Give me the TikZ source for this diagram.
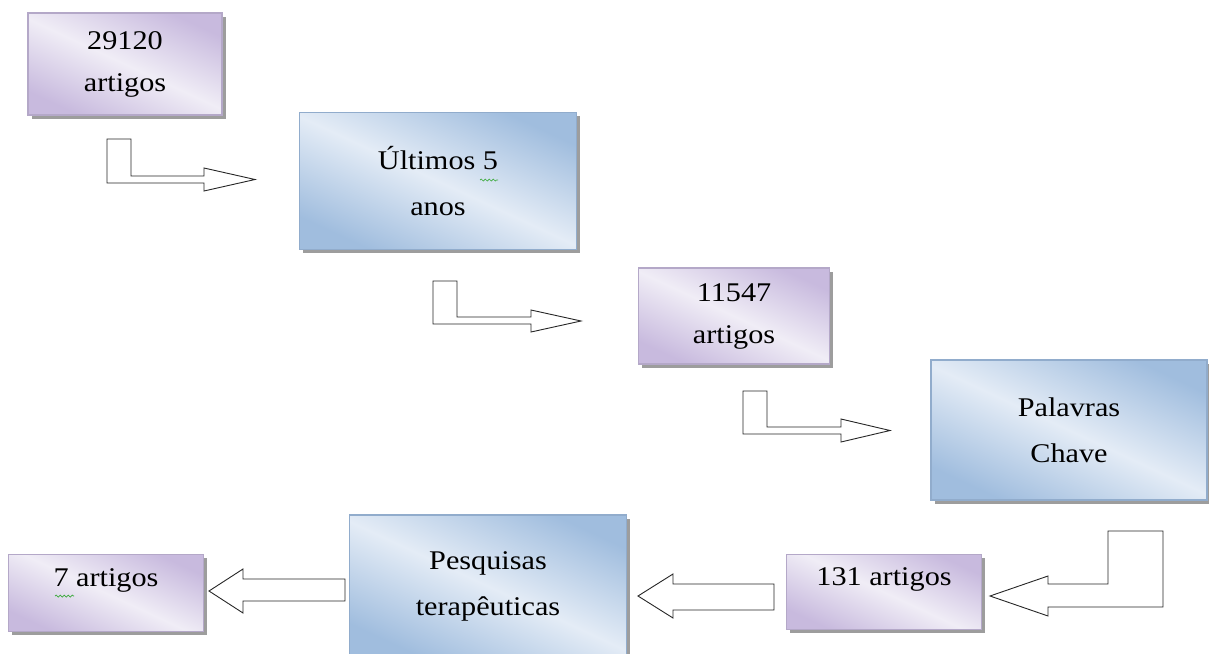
\documentclass[tikz,border=0pt]{standalone}
\usepackage{fontspec}
\setmainfont{Liberation Serif}[FakeStretch=1.12]
\usepackage{tikz}
\usetikzlibrary{shadows,decorations.pathmorphing}
\definecolor{lavEdge}{RGB}{200,186,222}
\definecolor{lavMid}{RGB}{240,237,246}
\definecolor{lavLine}{RGB}{180,168,200}
\definecolor{bluEdge}{RGB}{160,189,222}
\definecolor{bluMid}{RGB}{228,236,246}
\definecolor{bluLine}{RGB}{145,172,204}
\definecolor{spellGreen}{RGB}{60,170,60}
\tikzset{
  flow/box/.style={draw, line width=1.2pt, align=center, inner sep=0pt,
    drop shadow={shadow xshift=3.5pt, shadow yshift=-3.5pt, fill=black!55, opacity=0.7}},
  flow/count/.style={flow/box, draw=lavLine, left color=lavEdge, right color=lavEdge,
    middle color=lavMid, shading angle=155, font=\fontsize{27}{42}\selectfont},
  flow/filter/.style={flow/box, draw=bluLine, left color=bluEdge, right color=bluEdge,
    middle color=bluMid, shading angle=155, font=\fontsize{27}{46}\selectfont},
  flow/block/.style={draw=black!85, fill=white, line width=0.9pt, line join=miter},
  flow/squiggle/.style={spellGreen, line width=0.7pt, decorate,
    decoration={snake, segment length=4pt, amplitude=1pt}}
}
\begin{document}
\begin{tikzpicture}[x=1pt,y=-1pt]
\useasboundingbox (0,0) rectangle (1209,653);
% steps of the search
\node[flow/count, minimum width=194pt, minimum height=102pt] (art29120) at (125,64) {29120\\artigos};
\node[flow/filter, minimum width=277pt, minimum height=137pt] (anos) at (438,181) {Últimos 5\\anos};
\node[flow/count, minimum width=191pt, minimum height=96pt] (art11547) at (734,316) {11547\\artigos};
\node[flow/filter, minimum width=276pt, minimum height=140pt] (chave) at (1069,430) {Palavras\\Chave};
\node[flow/count, minimum width=195pt, minimum height=75pt] (art131) at (884,592) {131 artigos\\[-12pt]};
\node[flow/filter, minimum width=277pt, minimum height=142pt] (terap) at (488,586) {Pesquisas\\terapêuticas};
\node[flow/count, minimum width=195pt, minimum height=77pt] (art7) at (106,593) {7 artigos\\[-12pt]};
% spelling marks
\draw[flow/squiggle] (480,180) -- (498,180);
\draw[flow/squiggle] (55,596) -- (74,596);
% bent block arrows
\draw[flow/block] (107,139) -- (131,139) -- (131,176) -- (204,176) -- (204,168) -- (255,179.5)
  -- (204,191) -- (204,183) -- (107,183) -- cycle;
\draw[flow/block] (433,281) -- (457,281) -- (457,317) -- (531,317) -- (531,310) -- (581,321)
  -- (531,332) -- (531,324) -- (433,324) -- cycle;
\draw[flow/block] (743,391) -- (767,391) -- (767,427) -- (841,427) -- (841,419) -- (890,430.5)
  -- (841,442) -- (841,434) -- (743,434) -- cycle;
\draw[flow/block] (1163,531) -- (1108,531) -- (1108,584) -- (1048,584) -- (1048,576) -- (990,596)
  -- (1048,616) -- (1048,607) -- (1163,607) -- cycle;
% straight block arrows
\draw[flow/block] (774,584) -- (673,584) -- (673,574) -- (638,596) -- (673,618) -- (673,610)
  -- (774,610) -- cycle;
\draw[flow/block] (345,579) -- (243,579) -- (243,569) -- (209,591) -- (243,613) -- (243,601)
  -- (345,601) -- cycle;
\end{tikzpicture}
\end{document}
